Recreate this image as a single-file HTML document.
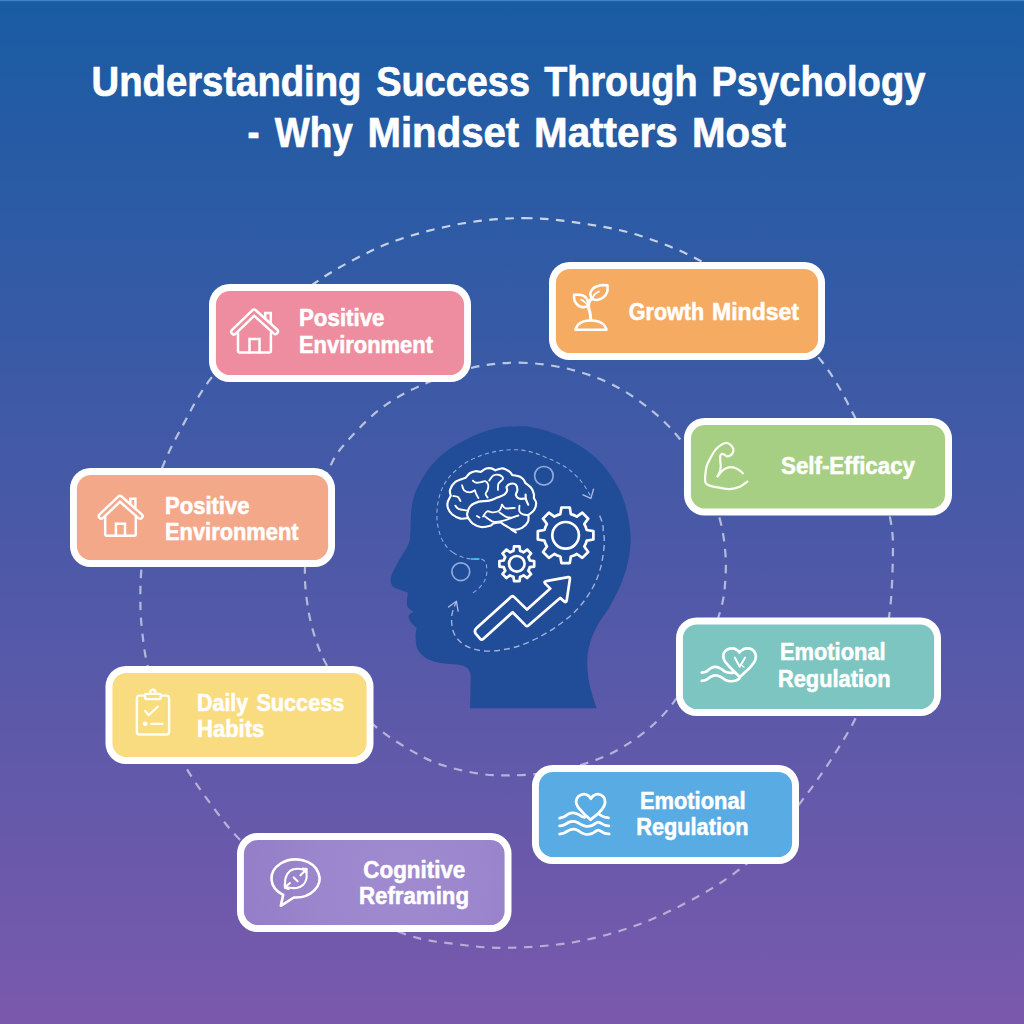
<!DOCTYPE html>
<html><head><meta charset="utf-8"><title>Understanding Success Through Psychology</title>
<style>
html,body{margin:0;padding:0;background:#4a58a8;}
body{width:1024px;height:1024px;overflow:hidden;font-family:"Liberation Sans",sans-serif;}
svg{display:block}
</style></head><body>
<svg width="1024" height="1024" viewBox="0 0 1024 1024">
<defs>
  <linearGradient id="bg" x1="0" y1="0" x2="0" y2="1">
    <stop offset="0" stop-color="#195ca3"/>
    <stop offset="0.5" stop-color="#4859a7"/>
    <stop offset="1" stop-color="#7a59ac"/>
  </linearGradient>
  <linearGradient id="ringg" gradientUnits="userSpaceOnUse" x1="0" y1="210" x2="0" y2="950">
    <stop offset="0" stop-color="#ffffff" stop-opacity="0.74"/>
    <stop offset="0.35" stop-color="#ffffff" stop-opacity="0.6"/>
    <stop offset="1" stop-color="#ffffff" stop-opacity="0.5"/>
  </linearGradient>
  <radialGradient id="gpurple" gradientUnits="userSpaceOnUse" cx="400" cy="880" r="150" gradientTransform="translate(0 0)">
    <stop offset="0" stop-color="#a08bd0"/>
    <stop offset="0.6" stop-color="#9b85cc"/>
    <stop offset="1" stop-color="#947fc8"/>
  </radialGradient>
</defs>
<rect width="1024" height="1024" fill="url(#bg)"/>
<rect width="1024" height="1.2" fill="#3f82c4"/>
<!--CIRCLES-->
<g fill="none" stroke="url(#ringg)" stroke-width="2.2" stroke-dasharray="8.5 7.5" stroke-linecap="butt">
  <path d="M524.00,218.10 C544.17,218.10 563.67,220.57 583.00,223.50 C602.33,226.43 620.07,229.28 640.00,235.70 C659.93,242.12 681.77,250.45 702.60,262.00 C723.43,273.55 745.27,288.58 765.00,305.00 C784.73,321.42 806.05,341.87 821.00,360.50 C835.95,379.13 845.37,398.88 854.70,416.80 C864.03,434.72 870.98,450.52 877.00,468.00 C883.02,485.48 888.17,506.40 890.80,521.70 C893.43,537.00 893.10,543.92 892.80,559.80 C892.50,575.68 891.80,598.97 889.00,617.00 C886.20,635.03 881.45,651.40 876.00,668.00 C870.55,684.60 862.85,702.80 856.30,716.60 C849.75,730.40 843.22,740.22 836.70,750.80 C830.18,761.38 823.12,771.63 817.20,780.10 C811.28,788.57 808.23,792.28 801.20,801.60 C794.17,810.92 784.55,825.27 775.00,836.00 C765.45,846.73 756.40,856.12 743.90,866.00 C731.40,875.88 717.32,885.63 700.00,895.30 C682.68,904.97 660.83,916.22 640.00,924.00 C619.17,931.78 597.28,938.03 575.00,942.00 C552.72,945.97 526.30,947.47 506.30,947.80 C486.30,948.13 471.42,946.13 455.00,944.00 C438.58,941.87 427.80,941.50 407.80,935.00 C387.80,928.50 355.80,915.17 335.00,905.00 C314.20,894.83 298.53,884.57 283.00,874.00 C267.47,863.43 253.55,852.87 241.80,841.60 C230.05,830.33 222.10,819.27 212.50,806.40 C202.90,793.53 192.62,779.47 184.20,764.40 C175.78,749.33 168.13,732.57 162.00,716.00 C155.87,699.43 150.70,679.07 147.40,665.00 C144.10,650.93 143.37,641.85 142.20,631.60 C141.03,621.35 140.52,614.03 140.40,603.50 C140.28,592.97 140.23,582.65 141.50,568.40 C142.77,554.15 144.50,534.87 148.00,518.00 C151.50,501.13 156.45,483.10 162.50,467.20 C168.55,451.30 176.27,437.35 184.30,422.60 C192.33,407.85 198.42,394.63 210.70,378.70 C222.98,362.77 240.62,342.95 258.00,327.00 C275.38,311.05 298.50,294.50 315.00,283.00 C331.50,271.50 342.83,265.30 357.00,258.00 C371.17,250.70 382.50,244.95 400.00,239.20 C417.50,233.45 441.33,227.02 462.00,223.50 C482.67,219.98 503.83,218.10 524.00,218.10 Z"/>
  <path d="M519.20,362.70 C535.80,362.90 553.72,365.27 570.00,369.30 C586.28,373.33 602.58,379.42 616.90,386.90 C631.22,394.38 644.83,404.77 655.90,414.20 C666.97,423.63 675.12,432.53 683.30,443.50 C691.48,454.47 698.98,467.65 705.00,480.00 C711.02,492.35 716.03,505.80 719.40,517.60 C722.77,529.40 724.23,540.07 725.20,550.80 C726.17,561.53 726.03,571.92 725.20,582.00 C724.37,592.08 724.07,598.30 720.20,611.30 C716.33,624.30 709.62,645.02 702.00,660.00 C694.38,674.98 683.33,689.78 674.50,701.20 C665.67,712.62 659.10,720.03 649.00,728.50 C638.90,736.97 625.60,745.82 613.90,752.00 C602.20,758.18 590.28,762.10 578.80,765.60 C567.32,769.10 556.73,771.37 545.00,773.00 C533.27,774.63 519.70,775.33 508.40,775.40 C497.10,775.47 488.92,775.35 477.20,773.40 C465.48,771.45 449.82,767.93 438.10,763.70 C426.38,759.47 417.32,754.18 406.90,748.00 C396.48,741.82 385.42,734.93 375.60,726.60 C365.78,718.27 356.17,708.27 348.00,698.00 C339.83,687.73 332.22,675.48 326.60,665.00 C320.98,654.52 317.52,645.35 314.30,635.10 C311.08,624.85 308.87,614.33 307.30,603.50 C305.73,592.67 304.62,582.35 304.90,570.10 C305.18,557.85 306.98,542.02 309.00,530.00 C311.02,517.98 313.53,508.50 317.00,498.00 C320.47,487.50 325.40,475.75 329.80,467.00 C334.20,458.25 335.27,454.95 343.40,445.50 C351.53,436.05 366.22,420.07 378.60,410.30 C390.98,400.53 402.40,393.93 417.70,386.90 C433.00,379.87 453.48,372.13 470.40,368.10 C487.32,364.07 502.60,362.50 519.20,362.70 Z"/>
</g>
<!--HEAD-->
<path d="M526,426.3 C521.67,426.50 508.23,426.12 500.00,427.50 C491.77,428.88 485.03,430.97 476.60,434.60 C468.17,438.23 456.72,444.42 449.40,449.30 C442.08,454.18 437.20,459.03 432.70,463.90 C428.20,468.77 425.33,473.62 422.40,478.50 C419.47,483.38 416.90,488.32 415.10,493.20 C413.30,498.08 412.33,502.93 411.60,507.80 C410.87,512.67 410.95,517.53 410.70,522.40 C410.45,527.27 410.58,533.10 410.10,537.00 C409.62,540.90 409.65,541.88 407.80,545.80 C405.95,549.72 401.68,555.63 399.00,560.50 C396.32,565.37 393.10,571.50 391.70,575.00 C390.30,578.50 390.78,580.42 390.60,581.50 C390.92,582.25 391.60,584.87 392.50,586.00 C393.40,587.13 393.45,587.18 396.00,588.30 C398.55,589.42 405.83,591.97 407.80,592.70 C407.65,594.65 406.62,601.68 406.90,604.40 C407.18,607.12 408.37,607.78 409.50,609.00 C410.63,610.22 413.00,611.25 413.70,611.70 C413.00,612.17 410.33,613.53 409.50,614.50 C408.67,615.47 408.37,616.08 408.70,617.50 C409.03,618.92 410.18,621.28 411.50,623.00 C412.82,624.72 415.75,627.00 416.60,627.80 C416.43,629.00 415.70,632.57 415.60,635.00 C415.50,637.43 415.68,640.07 416.00,642.40 C416.32,644.73 416.67,647.05 417.50,649.00 C418.33,650.95 419.50,652.52 421.00,654.10 C422.50,655.68 424.32,657.28 426.50,658.50 C428.68,659.72 431.02,660.57 434.10,661.40 C437.18,662.23 441.33,663.00 445.00,663.50 C448.67,664.00 453.10,664.07 456.10,664.40 C459.10,664.73 461.05,664.77 463.00,665.50 C464.95,666.23 466.60,667.55 467.80,668.80 C469.00,670.05 469.72,671.55 470.20,673.00 C470.68,674.45 470.62,676.75 470.70,677.50 L470.1,708.3 L596.7,708.3 C596.12,706.58 594.52,702.63 593.20,698.00 C591.88,693.37 589.78,686.83 588.80,680.50 C587.82,674.17 587.07,666.35 587.30,660.00 C587.53,653.65 588.48,648.25 590.20,642.40 C591.92,636.55 594.42,630.75 597.60,624.90 C600.78,619.05 605.40,614.13 609.30,607.30 C613.20,600.47 617.83,591.70 621.00,583.90 C624.17,576.10 626.70,568.30 628.30,560.50 C629.90,552.70 630.85,545.40 630.60,537.10 C630.35,528.80 628.90,519.00 626.80,510.70 C624.70,502.40 622.15,495.10 618.00,487.30 C613.85,479.50 608.48,470.97 601.90,463.90 C595.32,456.83 587.27,450.27 578.50,444.90 C569.73,439.53 558.05,434.80 549.30,431.70 C540.55,428.60 529.88,427.20 526.00,426.30 Z" fill="#214c97"/>

<g fill="none" stroke="#8fa8d8" stroke-width="1.1" stroke-linecap="butt" stroke-dasharray="4.2 3.2">
  <path d="M453,552.5 C444,547 438,534 437,519 C436.5,509 438,500 440.5,492.7 C444,483 449,476 456.4,469.9 C464,463 473,458 482.7,455 C493,451.5 503,449.7 514.4,449.7 C525,449.7 535,452.5 544.3,456.7 C554,460.5 563,465 570.6,470.8 C579,477.5 586,486.5 590.8,497"/>
  <path d="M453,552.5 C459,556.5 465,558.5 472.2,559 L481,559 C485,560 486.6,563 486.6,566.9 C487.5,572 486.5,577 484.5,581 C481.5,586.5 476.5,591 470.4,594.2"/>
  <path d="M599.6,515.6 C602.5,522 603.5,526 603.1,530 C604.5,536 604.5,542 604,547.6 C603,557 601.5,566 598.7,573.9 C595.5,583.5 590.5,592.5 584.7,600.3 C578.5,608.5 571.5,615.5 563.6,621.4 C555,628 545.5,634 535.5,639 C525.5,644 515,648 503.8,649.5 C496.5,651 489.5,651.5 482.7,650.9 C475.5,650 469,648 463.4,644.3 C458,640.5 454.5,636 452.9,630.2 C451.5,625 451.2,619.5 452,614.4 C452.8,610 454.2,606 456.4,602" stroke-width="1.4" stroke-dasharray="6 4" stroke="#9db3df"/>
</g>
<g fill="none" stroke="#a9bfe6" stroke-width="1.3" stroke-linecap="round" stroke-linejoin="round">
  <path d="M583,494.8 L590.9,498.4 L593.5,489.2"/>
  <path d="M448.5,607 L456.4,601.2 L458.1,611.2"/>
</g>
<path d="M471,559 L479.5,559" stroke="#4fc3f0" stroke-width="1.6" fill="none"/>
<g fill="none" stroke="#8eabda" stroke-width="1.7">
  <circle cx="543.9" cy="475.8" r="9.3"/>
  <circle cx="460.8" cy="571.7" r="8.9"/>
</g>
<g fill="none" stroke="#ffffff" stroke-width="2.7" stroke-linejoin="round" stroke-linecap="round">
  <path d="M450.77,495.81 C450.65,494.82 449.28,492.19 450.05,489.86 C450.82,487.54 452.78,483.88 455.38,481.87 C457.98,479.85 463.93,478.45 465.64,477.76 M465.64,477.76 C466.32,477.01 468.11,474.35 469.74,473.25 C471.36,472.16 473.53,471.42 475.38,471.20 C477.22,470.98 479.91,471.80 480.81,471.92 M480.81,471.92 C481.70,471.36 484.40,469.13 486.14,468.54 C487.89,467.94 489.73,468.02 491.27,468.33 C492.81,468.64 494.69,470.04 495.37,470.38 M495.37,470.38 C496.57,470.04 500.24,468.16 502.55,468.33 C504.86,468.50 507.59,470.30 509.22,471.41 C510.84,472.52 511.78,474.40 512.29,475.00 M512.29,475.00 C513.57,475.29 518.10,475.97 519.98,476.74 C521.86,477.51 522.68,478.58 523.57,479.61 C524.46,480.64 525.03,482.34 525.32,482.89 M525.32,482.89 C526.31,483.75 529.84,486.17 531.26,488.02 C532.68,489.86 533.40,492.29 533.83,493.97 C534.25,495.64 533.83,497.38 533.83,498.07 M533.83,498.07 C534.22,498.92 536.19,501.14 536.19,503.20 C536.19,505.25 535.13,508.41 533.83,510.37 C532.53,512.34 529.30,514.22 528.39,514.99 M528.39,514.99 C528.32,516.10 529.04,519.52 527.98,521.65 C526.92,523.79 524.39,526.47 522.03,527.81 C519.68,529.14 516.57,529.99 513.83,529.65 C511.10,529.31 507.85,527.00 505.63,525.75 C503.41,524.51 501.35,522.76 500.50,522.17 M500.50,522.17 C499.30,522.39 495.03,522.90 493.32,523.50 C491.61,524.10 492.30,525.17 490.25,525.75 C488.20,526.34 483.92,527.33 481.02,526.99 C478.11,526.64 474.95,525.19 472.81,523.70 C470.68,522.22 468.97,519.00 468.20,518.06 M468.20,518.06 C466.92,518.15 463.16,519.17 460.51,518.58 C457.86,517.98 454.39,516.18 452.31,514.47 C450.22,512.77 448.77,510.37 448.00,508.32 C447.23,506.27 447.23,504.25 447.69,502.17 C448.15,500.08 450.25,496.87 450.77,495.81 M510.75,529.04 C511.61,529.60 515.03,531.86 515.88,532.42 M468.20,518.06 C468.03,517.29 466.75,515.50 467.17,513.45 C467.60,511.40 468.80,507.72 470.76,505.76 C472.73,503.79 475.89,502.51 478.97,501.66 C482.04,500.80 486.14,501.32 489.22,500.63 C492.30,499.95 494.86,498.58 497.42,497.56 C499.99,496.53 502.98,495.68 504.60,494.48 C506.23,493.28 506.82,491.66 507.17,490.38 C507.51,489.10 506.05,487.90 506.65,486.79 C507.25,485.68 509.22,484.05 510.75,483.71 C512.29,483.37 514.77,483.71 515.88,484.74 C516.99,485.76 517.42,488.16 517.42,489.86 C517.42,491.57 515.63,493.54 515.88,494.99 C516.14,496.44 517.42,497.98 518.96,498.58 C520.50,499.18 524.09,498.58 525.11,498.58 M525.62,494.48 C525.67,495.21 525.50,497.18 525.93,498.89 C526.36,500.60 527.81,503.76 528.19,504.73" stroke-width="2.15"/>
  <g stroke-width="1.85"><path d="M462.05,485.25 C462.39,486.10 462.82,489.18 464.10,490.38 C465.38,491.57 467.94,492.43 469.74,492.43 C471.53,492.43 474.01,490.72 474.86,490.38"/><path d="M472.81,480.64 C473.33,480.98 474.52,482.43 475.89,482.69 C477.26,482.94 479.48,482.43 481.02,482.17 C482.56,481.92 483.92,480.72 485.12,481.15 C486.32,481.58 487.77,483.28 488.20,484.74 C488.62,486.19 488.11,488.33 487.68,489.86 C487.26,491.40 485.63,492.68 485.63,493.97 C485.63,495.25 487.34,496.96 487.68,497.56"/><path d="M474.86,490.38 C475.12,491.06 475.80,493.20 476.40,494.48 C477.00,495.76 478.11,497.47 478.45,498.07"/><path d="M489.22,480.64 C489.90,479.78 491.61,476.45 493.32,475.51 C495.03,474.57 497.85,474.48 499.47,475.00 C501.10,475.51 503.23,477.13 503.06,478.58 C502.89,480.04 499.30,481.83 498.45,483.71 C497.60,485.59 498.02,488.84 497.94,489.86"/><path d="M453.33,496.02 C454.10,496.19 456.75,496.19 457.95,497.04 C459.14,497.90 460.08,500.46 460.51,501.14"/><path d="M455.38,505.76 C455.89,506.27 456.66,508.07 458.46,508.84 C460.25,509.60 464.87,510.12 466.15,510.37"/><path d="M502.04,504.73 C502.64,505.33 503.49,507.81 505.63,508.32 C507.76,508.84 513.32,507.90 514.86,507.81"/><path d="M502.04,504.73 C501.61,505.67 500.93,509.09 499.47,510.37 C498.02,511.66 495.37,512.25 493.32,512.42 C491.27,512.60 488.88,510.72 487.17,511.40 C485.46,512.08 483.75,515.67 483.07,516.53"/><path d="M499.47,512.42 C500.50,513.11 503.58,515.67 505.63,516.53 C507.68,517.38 509.64,517.72 511.78,517.55 C513.92,517.38 517.33,515.84 518.45,515.50"/><path d="M485.12,516.53 C486.49,517.38 490.25,520.97 493.32,521.65 C496.40,522.34 500.50,521.28 503.58,520.63 C506.65,519.98 510.41,518.23 511.78,517.76"/><path d="M476.92,516.01 C477.34,516.27 479.05,517.29 479.48,517.55"/><path d="M519.47,505.76 C519.47,506.70 518.87,509.95 519.47,511.40 C520.07,512.85 521.61,513.88 523.06,514.47 C524.51,515.07 527.33,514.90 528.19,514.99"/></g>
  <path d="M560.34,514.14 L561.42,507.51 L569.78,507.51 L570.86,514.14 A21.80,21.80 0 0 1 576.84,516.62 L582.29,512.70 L588.20,518.61 L584.28,524.06 A21.80,21.80 0 0 1 586.76,530.04 L593.39,531.12 L593.39,539.48 L586.76,540.56 A21.80,21.80 0 0 1 584.28,546.54 L588.20,551.99 L582.29,557.90 L576.84,553.98 A21.80,21.80 0 0 1 570.86,556.46 L569.78,563.09 L561.42,563.09 L560.34,556.46 A21.80,21.80 0 0 1 554.36,553.98 L548.91,557.90 L543.00,551.99 L546.92,546.54 A21.80,21.80 0 0 1 544.44,540.56 L537.81,539.48 L537.81,531.12 L544.44,530.04 A21.80,21.80 0 0 1 546.92,524.06 L543.00,518.61 L548.91,512.70 L554.36,516.62 A21.80,21.80 0 0 1 560.34,514.14 Z"/>
  <circle cx="565.6" cy="535.3" r="13.3"/>
  <path d="M513.47,550.82 L514.05,546.42 L519.55,546.42 L520.13,550.82 A13.40,13.40 0 0 1 523.62,552.27 L527.15,549.56 L531.04,553.45 L528.33,556.98 A13.40,13.40 0 0 1 529.78,560.47 L534.18,561.05 L534.18,566.55 L529.78,567.13 A13.40,13.40 0 0 1 528.33,570.62 L531.04,574.15 L527.15,578.04 L523.62,575.33 A13.40,13.40 0 0 1 520.13,576.78 L519.55,581.18 L514.05,581.18 L513.47,576.78 A13.40,13.40 0 0 1 509.98,575.33 L506.45,578.04 L502.56,574.15 L505.27,570.62 A13.40,13.40 0 0 1 503.82,567.13 L499.42,566.55 L499.42,561.05 L503.82,560.47 A13.40,13.40 0 0 1 505.27,556.98 L502.56,553.45 L506.45,549.56 L509.98,552.27 A13.40,13.40 0 0 1 513.47,550.82 Z"/>
  <circle cx="516.8" cy="563.8" r="7.8"/>
  <path d="M476.3,628.2 L511.2,596.8 Q512.6,595.6 514,596.9 L527,609.6 L550.3,588.6 L545.2,583.6 Q543.6,581.6 546,581.1 L568.2,577.2 Q570.2,577 569.9,579 L566.7,600.6 Q566.1,603 564.2,601.4 L560.1,597.9 L528.4,625.5 Q527,626.7 525.6,625.4 L512.6,612.2 L483.2,638.9 Q481.6,640.2 480.2,638.8 L476.1,634.2 Q473.6,631 476.3,628.2 Z"/>
</g>

<!--BOXES-->
<rect x="209" y="284" width="262" height="98" rx="20.5" ry="20.5" fill="#ffffff"/><rect x="215.9" y="290.9" width="248.2" height="84.2" rx="14.2" ry="14.2" fill="#ee8d9f"/><rect x="549" y="262" width="276" height="98" rx="20.5" ry="20.5" fill="#ffffff"/><rect x="555.9" y="268.9" width="262.2" height="84.2" rx="14.2" ry="14.2" fill="#f6ab62"/><rect x="684" y="418" width="268" height="97.5" rx="20.5" ry="20.5" fill="#ffffff"/><rect x="690.9" y="424.9" width="254.2" height="83.7" rx="14.2" ry="14.2" fill="#a7cf83"/><rect x="70" y="468" width="265" height="99" rx="20.5" ry="20.5" fill="#ffffff"/><rect x="76.9" y="474.9" width="251.2" height="85.2" rx="14.2" ry="14.2" fill="#f4a88a"/><rect x="676" y="617.5" width="265" height="98.5" rx="20.5" ry="20.5" fill="#ffffff"/><rect x="682.9" y="624.4" width="251.2" height="84.7" rx="14.2" ry="14.2" fill="#7cc5c0"/><rect x="105.5" y="666" width="268.0" height="98" rx="20.5" ry="20.5" fill="#ffffff"/><rect x="112.4" y="672.9" width="254.2" height="84.2" rx="14.2" ry="14.2" fill="#f9dc80"/><rect x="532" y="765" width="267" height="99" rx="20.5" ry="20.5" fill="#ffffff"/><rect x="538.9" y="771.9" width="253.2" height="85.2" rx="14.2" ry="14.2" fill="#58abe3"/><rect x="237" y="833" width="274.5" height="99" rx="20.5" ry="20.5" fill="#ffffff"/><rect x="243.9" y="839.9" width="260.7" height="85.2" rx="14.2" ry="14.2" fill="url(#gpurple)"/>
<g fill="none" stroke="#fff" stroke-width="2.5" stroke-linejoin="round" stroke-linecap="round"><path d="M238.0,333 L238.0,351.3 Q238.0,352.5 239.2,352.5 L269.7,352.5 Q270.9,352.5 270.9,351.3 L270.9,333"/><path d="M249.5,352.5 L249.5,339.1 L259.5,339.1 L259.5,352.5" stroke-linejoin="miter"/><path d="M265.2,320 L265.2,312.9 L270.8,312.9 L270.8,325" stroke-linejoin="miter"/><path d="M233.90,331.80 L254.10,312.20 L275.30,331.40" stroke-width="7.7"/><path d="M233.90,331.80 L254.10,312.20 L275.30,331.40" stroke="#ee8d9f" stroke-width="2.7"/></g><g fill="none" stroke="#fff" stroke-width="2.45" stroke-linejoin="round" stroke-linecap="round"><path d="M105.2,517 L105.2,534.5999999999999 Q105.2,535.8 106.4,535.8 L134.60000000000002,535.8 Q135.8,535.8 135.8,534.5999999999999 L135.8,517"/><path d="M115.9,535.8 L115.9,523.7 L125.0,523.7 L125.0,535.8" stroke-linejoin="miter"/><path d="M130.3,506 L130.3,498.7 L135.4,498.7 L135.4,510" stroke-linejoin="miter"/><path d="M101.30,516.20 L119.90,498.40 L140.10,516.20" stroke-width="7.4"/><path d="M101.30,516.20 L119.90,498.40 L140.10,516.20" stroke="#f4a88a" stroke-width="2.5"/></g><g fill="none" stroke="#fff" stroke-width="2.6" stroke-linejoin="round" stroke-linecap="round"><path d="M575.38,329.68 L606.48,329.68 M606.48,329.68 C606.02,328.83 605.11,325.92 603.75,324.56 C602.38,323.19 600.44,322.16 598.28,321.48 C596.11,320.80 593.26,320.45 590.76,320.45 C588.25,320.45 585.35,320.80 583.24,321.48 C581.13,322.16 579.42,323.19 578.11,324.56 C576.80,325.92 575.84,328.83 575.38,329.68"/><path d="M590.76,319.43 C590.64,318.40 590.42,315.21 590.08,313.28 C589.73,311.34 588.88,309.63 588.71,307.81 C588.54,305.99 588.48,303.99 589.05,302.34 C589.62,300.69 591.61,298.64 592.13,297.90" stroke-width="3"/><path d="M591.44,298.58 C591.27,297.61 589.96,294.59 590.42,292.77 C590.87,290.95 592.41,288.90 594.18,287.65 C595.94,286.39 598.79,285.65 601.01,285.25 C603.23,284.85 606.42,285.25 607.51,285.25 M607.51,285.25 C607.45,286.39 607.90,290.04 607.16,292.09 C606.42,294.14 604.77,296.25 603.06,297.56 C601.35,298.87 598.85,299.78 596.91,299.95 C594.97,300.12 592.35,298.81 591.44,298.58"/><path d="M588.37,305.76 C588.20,304.73 588.31,301.37 587.34,299.61 C586.37,297.84 584.78,295.96 582.56,295.16 C580.33,294.37 575.44,294.88 574.01,294.82 M574.01,294.82 C574.13,295.85 573.84,299.09 574.70,300.97 C575.55,302.85 577.60,305.08 579.14,306.10 C580.68,307.13 582.39,307.18 583.92,307.13 C585.46,307.07 587.63,305.99 588.37,305.76"/><path d="M592.13,298.24 C592.58,297.56 593.72,295.28 594.86,294.14 C596.00,293.00 598.28,291.86 598.96,291.40" stroke-width="1.8"/><path d="M587.68,305.08 C587.06,304.45 585.01,302.23 583.92,301.32 C582.84,300.40 581.65,299.89 581.19,299.61" stroke-width="1.8"/></g><g fill="none" stroke="#fbfef4" stroke-width="2.25" stroke-linejoin="round" stroke-linecap="round"><path d="M747.37,481.56 C746.11,482.41 742.81,485.43 739.85,486.68 C736.88,487.94 733.01,488.90 729.59,489.07 C726.18,489.25 722.64,488.28 719.34,487.71 C716.04,487.14 712.05,486.45 709.77,485.66 C707.49,484.86 706.43,484.46 705.67,482.92 C704.91,481.38 705.02,479.22 705.19,476.43 C705.36,473.64 705.82,469.25 706.70,466.18 C707.57,463.10 709.03,460.65 710.46,457.97 C711.88,455.30 713.53,452.26 715.24,450.11 C716.95,447.97 718.89,446.32 720.71,445.12 C722.53,443.93 724.58,443.02 726.18,442.94 C727.77,442.86 729.12,443.73 730.28,444.65 C731.44,445.56 732.67,447.21 733.15,448.40 C733.63,449.60 733.57,450.68 733.15,451.82 C732.73,452.96 731.67,454.50 730.62,455.24 C729.57,455.98 727.94,456.38 726.86,456.27 C725.78,456.15 724.92,454.96 724.13,454.56 C723.33,454.16 722.70,453.70 722.08,453.87 C721.45,454.04 720.67,454.44 720.37,455.58 C720.06,456.72 720.17,458.94 720.23,460.71 C720.29,462.47 720.74,464.47 720.71,466.18 C720.67,467.89 720.54,469.28 720.02,470.96 C719.51,472.65 718.03,475.40 717.63,476.29"/><path d="M717.63,476.29 C718.37,475.40 720.65,472.31 722.08,470.96 C723.50,469.62 724.70,468.85 726.18,468.23 C727.66,467.60 729.37,467.20 730.96,467.20 C732.56,467.20 734.26,467.66 735.75,468.23 C737.23,468.80 738.65,469.76 739.85,470.62 C741.04,471.47 742.41,472.90 742.92,473.35"/></g><g fill="none" stroke="#fff" stroke-width="2.7" stroke-linejoin="round" stroke-linecap="round"><path d="M739.69,677.05 C738.00,675.34 732.16,669.65 729.57,666.79 C726.98,663.94 725.14,662.16 724.15,659.93 C723.17,657.70 723.05,655.20 723.65,653.42 C724.25,651.65 726.18,650.15 727.77,649.31 C729.36,648.46 731.62,648.25 733.18,648.37 C734.75,648.49 736.11,649.34 737.16,650.03 C738.21,650.72 739.09,652.08 739.47,652.49 M739.47,652.49 C739.87,652.08 740.74,650.72 741.86,650.03 C742.98,649.34 744.50,648.46 746.19,648.37 C747.88,648.27 750.41,648.43 751.97,649.45 C753.54,650.47 755.04,652.70 755.58,654.51 C756.13,656.32 755.95,658.36 755.22,660.29 C754.50,662.22 752.87,664.14 751.25,666.07 C749.62,668.00 747.39,670.02 745.47,671.85 C743.54,673.68 740.65,676.18 739.69,677.05"/><path d="M701.75,672.57 C702.54,672.39 704.95,672.24 706.45,671.49 C707.96,670.74 709.22,668.88 710.79,668.09 C712.35,667.31 714.16,666.71 715.84,666.79 C717.53,666.88 719.34,667.76 720.90,668.60 C722.47,669.44 723.55,671.13 725.24,671.85 C726.92,672.57 729.39,672.87 731.02,672.93 C732.64,672.99 734.33,672.33 734.99,672.21"/><path d="M701.75,680.88 C702.54,680.70 704.95,680.48 706.45,679.80 C707.96,679.11 709.22,677.49 710.79,676.76 C712.35,676.04 714.16,675.44 715.84,675.46 C717.53,675.49 719.22,676.12 720.90,676.91 C722.59,677.69 724.27,679.44 725.96,680.16 C727.65,680.88 729.33,681.18 731.02,681.24 C732.70,681.30 734.69,680.98 736.08,680.52 C737.46,680.06 738.78,678.83 739.33,678.50"/><path d="M734.77,657.54 L739.69,666.79 L745.11,657.54" stroke-width="2"/><path d="M741.86,665.35 L744.02,667.15" stroke-width="1.3"/></g><g fill="none" stroke="#fffef2" stroke-width="2.4" stroke-linejoin="round" stroke-linecap="round"><rect x="136.9" y="695.6" width="32.2" height="38.9" rx="2.6" ry="2.6"/><circle cx="152.9" cy="692.3" r="2.6" fill="#f9dc80"/><rect x="145.1" y="693.9" width="15.6" height="5.2" rx="1.2" ry="1.2" fill="#f9dc80"/><path d="M145.14,710.94 L148.68,715.13 L157.71,706.75" stroke-width="2.3"/><path d="M151.26,723.83 L162.54,723.83" stroke-width="2.3"/><circle cx="145.2" cy="723.8" r="2.4" fill="#fffef2" stroke="none"/></g><g fill="none" stroke="#fff" stroke-width="2.8" stroke-linejoin="round" stroke-linecap="round"><path d="M590.55,819.76 C589.32,818.63 585.31,815.13 583.16,812.94 C581.02,810.75 578.85,808.49 577.68,806.61 C576.50,804.74 576.04,803.37 576.13,801.69 C576.22,800.01 576.95,797.82 578.24,796.56 C579.53,795.29 582.17,794.24 583.86,794.10 C585.56,793.95 587.26,794.95 588.44,795.71 C589.61,796.47 590.49,798.17 590.90,798.67 M590.90,798.67 C591.31,798.17 592.19,796.47 593.36,795.71 C594.53,794.95 596.29,793.95 597.93,794.10 C599.57,794.24 602.01,795.29 603.20,796.56 C604.40,797.82 605.04,799.96 605.10,801.69 C605.16,803.43 604.63,805.09 603.56,806.96 C602.48,808.84 600.80,810.81 598.63,812.94 C596.46,815.08 591.89,818.63 590.55,819.76"/><path d="M559.60,818.22 C560.37,817.98 562.71,817.51 564.17,816.81 C565.64,816.11 566.99,814.64 568.39,814.00 C569.80,813.35 571.09,812.94 572.61,812.94 C574.14,812.94 576.01,813.41 577.54,814.00 C579.06,814.58 580.58,815.91 581.76,816.46 C582.93,817.01 584.10,817.16 584.57,817.30"/><path d="M599.34,814.35 C600.04,814.76 602.03,816.22 603.56,816.81 C605.08,817.40 607.66,817.69 608.48,817.86"/><path d="M559.60,825.95 C560.37,825.78 562.59,825.54 564.17,824.90 C565.76,824.25 567.57,822.67 569.10,822.08 C570.62,821.50 571.91,821.32 573.32,821.38 C574.72,821.44 576.13,821.85 577.54,822.44 C578.94,823.02 580.23,824.25 581.76,824.90 C583.28,825.54 585.04,826.19 586.68,826.30 C588.32,826.42 590.08,826.13 591.60,825.60 C593.12,825.07 594.71,823.73 595.82,823.14 C596.93,822.55 597.34,822.03 598.28,822.08 C599.22,822.14 600.33,822.96 601.45,823.49 C602.56,824.02 603.73,824.84 604.96,825.25 C606.19,825.66 608.19,825.83 608.83,825.95"/><path d="M559.60,834.04 C560.37,833.86 562.59,833.63 564.17,832.98 C565.76,832.34 567.57,830.82 569.10,830.17 C570.62,829.53 571.91,829.12 573.32,829.12 C574.72,829.12 576.13,829.53 577.54,830.17 C578.94,830.82 580.23,832.28 581.76,832.98 C583.28,833.69 585.04,834.27 586.68,834.39 C588.32,834.51 590.08,834.22 591.60,833.69 C593.12,833.16 594.71,831.81 595.82,831.23 C596.93,830.64 597.34,830.11 598.28,830.17 C599.22,830.23 600.33,831.05 601.45,831.58 C602.56,832.11 603.67,832.95 604.96,833.34 C606.25,833.72 608.48,833.80 609.18,833.90"/></g><g fill="none" stroke="#fff" stroke-width="2.6" stroke-linejoin="round" stroke-linecap="round"><path d="M293.8,897.51 A24,19.06 0 1 0 283.2,894.87 L280.8,905.8 Z"/><g stroke-width="2.1"><path d="M284.96,886.22 C285.09,884.75 284.84,880.04 285.74,877.43 C286.64,874.81 288.34,871.99 290.38,870.53 C292.42,869.08 295.48,868.78 297.97,868.71 C300.47,868.64 304.13,869.88 305.36,870.11"/><path d="M306.20,870.82 C306.26,872.03 307.05,875.80 306.55,878.13 C306.06,880.46 304.91,883.17 303.25,884.81 C301.58,886.45 299.15,887.51 296.57,887.97 C293.99,888.44 289.24,887.68 287.78,887.62"/><path d="M300.44,875.32 L305.71,870.04"/><path d="M284.89,887.41 L289.89,883.05"/><path d="M293.76,877.43 L297.62,881.29"/><path d="M302.76,868.42 L306.98,868.85 L306.55,873.07 Z" fill="#fff" stroke-width="1.6"/><path d="M284.47,884.04 L284.75,887.97 L288.83,889.24 Z" fill="#fff" stroke-width="1.6"/></g></g>
<g font-family="'Liberation Sans', sans-serif" font-weight="bold" fill="#ffffff" stroke="#ffffff" stroke-linejoin="round">
<g stroke-width="0.7"><text x="91.6" y="96" font-size="43" text-anchor="start" textLength="269.9" lengthAdjust="spacingAndGlyphs">Understanding</text><text x="376.2" y="96" font-size="43" text-anchor="start" textLength="153.8" lengthAdjust="spacingAndGlyphs">Success</text><text x="544.2" y="96" font-size="43" text-anchor="start" textLength="153.3" lengthAdjust="spacingAndGlyphs">Through</text><text x="711.4" y="96" font-size="43" text-anchor="start" textLength="214.0" lengthAdjust="spacingAndGlyphs">Psychology</text><text x="247.6" y="146.7" font-size="43" text-anchor="start" textLength="12.0" lengthAdjust="spacingAndGlyphs">-</text><text x="274.7" y="146.7" font-size="43" text-anchor="start" textLength="78.2" lengthAdjust="spacingAndGlyphs">Why</text><text x="367.5" y="146.7" font-size="43" text-anchor="start" textLength="151.7" lengthAdjust="spacingAndGlyphs">Mindset</text><text x="534" y="146.7" font-size="43" text-anchor="start" textLength="143.6" lengthAdjust="spacingAndGlyphs">Matters</text><text x="692" y="146.7" font-size="43" text-anchor="start" textLength="93.8" lengthAdjust="spacingAndGlyphs">Most</text></g>
<g stroke-width="0.55"><text x="299" y="326" font-size="23" text-anchor="start" textLength="85.5" lengthAdjust="spacingAndGlyphs">Positive</text><text x="299" y="353" font-size="23" text-anchor="start" textLength="134" lengthAdjust="spacingAndGlyphs">Environment</text><text x="628.8" y="319.7" font-size="23" text-anchor="start" textLength="75.3" lengthAdjust="spacingAndGlyphs">Growth</text><text x="712" y="319.7" font-size="23" text-anchor="start" textLength="87" lengthAdjust="spacingAndGlyphs">Mindset</text><text x="781" y="474.4" font-size="23" text-anchor="start" textLength="134" lengthAdjust="spacingAndGlyphs">Self-Efficacy</text><text x="165" y="513.6" font-size="23" text-anchor="start" textLength="84.5" lengthAdjust="spacingAndGlyphs">Positive</text><text x="165" y="540.3" font-size="23" text-anchor="start" textLength="133.5" lengthAdjust="spacingAndGlyphs">Environment</text><text x="780" y="660" font-size="23" text-anchor="start" textLength="105.6" lengthAdjust="spacingAndGlyphs">Emotional</text><text x="778" y="686.7" font-size="23" text-anchor="start" textLength="112.6" lengthAdjust="spacingAndGlyphs">Regulation</text><text x="197" y="710.7" font-size="23" text-anchor="start" textLength="51.2" lengthAdjust="spacingAndGlyphs">Daily</text><text x="256.4" y="710.7" font-size="23" text-anchor="start" textLength="87.9" lengthAdjust="spacingAndGlyphs">Success</text><text x="197" y="737.3" font-size="23" text-anchor="start" textLength="67.3" lengthAdjust="spacingAndGlyphs">Habits</text><text x="640" y="808.6" font-size="23" text-anchor="start" textLength="105.6" lengthAdjust="spacingAndGlyphs">Emotional</text><text x="636.3" y="835" font-size="23" text-anchor="start" textLength="112.2" lengthAdjust="spacingAndGlyphs">Regulation</text><text x="363.3" y="877.7" font-size="23" text-anchor="start" textLength="102" lengthAdjust="spacingAndGlyphs">Cognitive</text><text x="359" y="904" font-size="23" text-anchor="start" textLength="110" lengthAdjust="spacingAndGlyphs">Reframing</text></g>
</g>
</svg>
</body></html>
